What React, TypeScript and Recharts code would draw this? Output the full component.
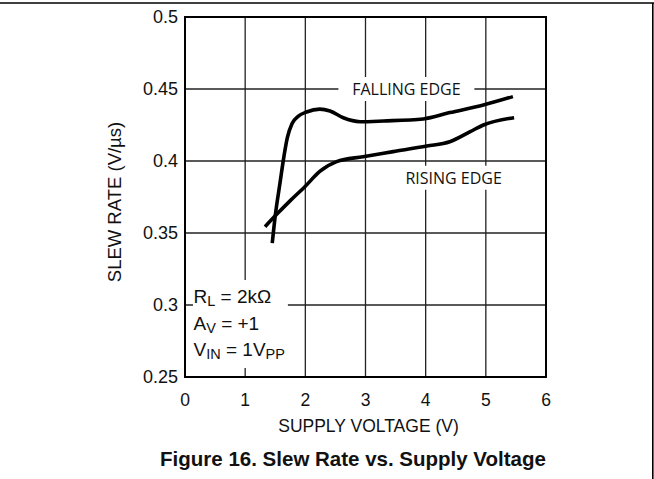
import React from 'react';
import {
  ComposedChart,
  Line,
  XAxis,
  YAxis,
  CartesianGrid,
  ReferenceArea,
  Label,
} from 'recharts';

// Axis ticks
const voltageTicks = [0, 1, 2, 3, 4, 5, 6];
const slewTicks = [0.25, 0.3, 0.35, 0.4, 0.45, 0.5];

// Falling-edge slew rate (V/µs) vs supply voltage (V)
const fallingVoltage = [1.45, 1.5, 1.58, 1.64, 1.7, 1.78, 1.88, 2.02, 2.24, 2.41, 2.63, 2.91, 3.3, 3.96, 4.4, 4.96, 5.45];
const fallingSlew = [0.343, 0.362, 0.385, 0.402, 0.416, 0.426, 0.431, 0.434, 0.436, 0.4347, 0.43, 0.4273, 0.4278, 0.4292, 0.4336, 0.4389, 0.4447];

// Rising-edge slew rate (V/µs) vs supply voltage (V)
const risingVoltage = [1.33, 1.52, 1.75, 2.0, 2.24, 2.52, 2.96, 3.46, 4.02, 4.4, 4.74, 4.96, 5.47];
const risingSlew = [0.3544, 0.3628, 0.3725, 0.3825, 0.3928, 0.3996, 0.403, 0.4065, 0.4104, 0.4134, 0.4204, 0.425, 0.4301];

const fallingData = fallingVoltage.map((v, i) => ({ v, sr: fallingSlew[i] }));
const risingData = risingVoltage.map((v, i) => ({ v, sr: risingSlew[i] }));

const ARIAL = 'Arial, "Liberation Sans", sans-serif';
const CURVE_FONT = '"Open Sans", sans-serif';

const W = 654;
const H = 479;

type VB = { x: number; y: number; width: number; height: number };

const CurveLabel = ({ viewBox, text }: { viewBox?: VB; text: string }) => {
  if (!viewBox) return null;
  const cx = viewBox.x + viewBox.width / 2;
  const cy = viewBox.y + viewBox.height / 2;
  return (
    <text x={cx} y={cy + 5.8} textAnchor="middle" fontFamily={CURVE_FONT} fontSize={16} fill="#111">
      {text}
    </text>
  );
};

const ConditionsLabel = ({ viewBox }: { viewBox?: VB }) => {
  if (!viewBox) return null;
  const x = viewBox.x + 0.5;
  const y0 = viewBox.y;
  const sub = { fontSize: 14.5 };
  return (
    <g fontFamily={ARIAL} fontSize={19} fill="#111">
      <text x={x} y={y0 + 23.5}>
        <tspan>R</tspan>
        <tspan {...sub} dy={3}>L</tspan>
        <tspan dy={-3}> = 2kΩ</tspan>
      </text>
      <text x={x} y={y0 + 50}>
        <tspan>A</tspan>
        <tspan {...sub} dy={3}>V</tspan>
        <tspan dy={-3}> = +1</tspan>
      </text>
      <text x={x} y={y0 + 76.5}>
        <tspan>V</tspan>
        <tspan {...sub} dy={3}>IN</tspan>
        <tspan dy={-3}> = 1V</tspan>
        <tspan {...sub} dy={3}>PP</tspan>
      </text>
    </g>
  );
};

const YTitle = ({ viewBox }: { viewBox?: VB }) => {
  if (!viewBox) return null;
  const cx = viewBox.x + 9;
  const cy = viewBox.y + viewBox.height / 2 + 5;
  return (
    <text
      x={cx}
      y={cy}
      transform={`rotate(-90 ${cx} ${cy})`}
      textAnchor="middle"
      dominantBaseline="central"
      fontFamily={ARIAL}
      fontSize={18.5}
      fill="#111"
    >
      SLEW RATE  (V/µs)
    </text>
  );
};

const XTitle = ({ viewBox }: { viewBox?: VB }) => {
  if (!viewBox) return null;
  const cx = viewBox.x + viewBox.width / 2 + 3;
  return (
    <text x={cx} y={viewBox.y + 55} textAnchor="middle" fontFamily={ARIAL} fontSize={17.5} fill="#111">
      SUPPLY VOLTAGE (V)
    </text>
  );
};

export default function App() {
  return (
    <div style={{ position: 'absolute', left: 0, top: 0, width: W, height: H, background: '#fff' }}>
      <ComposedChart
        width={W}
        height={H}
        margin={{ top: 17, right: 108, bottom: 72, left: 105 }}
      >
        <CartesianGrid stroke="#222" strokeWidth={1.3} />
        <XAxis
          type="number"
          dataKey="v"
          domain={[0, 6]}
          ticks={voltageTicks}
          interval={0}
          allowDataOverflow
          height={30}
          axisLine={false}
          tickLine={false}
          tickSize={6}
          tickMargin={11}
          tick={{ fontFamily: ARIAL, fontSize: 17.5, fill: '#111' }}
        >
          <Label content={<XTitle />} />
        </XAxis>
        <YAxis
          type="number"
          domain={[0.25, 0.5]}
          ticks={slewTicks}
          interval={0}
          allowDataOverflow
          width={80}
          axisLine={false}
          tickLine={false}
          tickSize={5}
          tickMargin={2}
          tick={{ fontFamily: ARIAL, fontSize: 18, fill: '#111' }}
        >
          <Label content={<YTitle />} />
        </YAxis>

        {/* white patches behind the in-plot text */}
        <ReferenceArea
          x1={2.55}
          x2={4.81}
          y1={0.4417}
          y2={0.4583}
          fill="#fff"
          fillOpacity={1}
          stroke="none"
          label={<CurveLabel text="FALLING EDGE" />}
        />
        <ReferenceArea
          x1={3.6}
          x2={5.33}
          y1={0.3801}
          y2={0.3967}
          fill="#fff"
          fillOpacity={1}
          stroke="none"
          label={<CurveLabel text="RISING EDGE" />}
        />
        <ReferenceArea
          x1={0.133}
          x2={1.71}
          y1={0.2563}
          y2={0.3174}
          fill="#fff"
          fillOpacity={1}
          stroke="none"
          label={<ConditionsLabel />}
        />

        {/* plot frame */}
        <ReferenceArea x1={0} x2={6} y1={0.25} y2={0.5} fill="none" stroke="#000" strokeWidth={2} />

        <Line
          data={fallingData}
          dataKey="sr"
          type="monotone"
          stroke="#000"
          strokeWidth={3.6}
          dot={false}
          isAnimationActive={false}
        />
        <Line
          data={risingData}
          dataKey="sr"
          type="monotone"
          stroke="#000"
          strokeWidth={3.6}
          dot={false}
          isAnimationActive={false}
        />
      </ComposedChart>
      <svg
        width={W}
        height={H}
        style={{ position: 'absolute', left: 0, top: 0, pointerEvents: 'none' }}
      >
        <line x1={0} y1={3} x2={W} y2={3} stroke="#000" strokeWidth={1.6} />
        <line x1={652.8} y1={3} x2={652.8} y2={H} stroke="#000" strokeWidth={1.6} />
        <text
          x={353}
          y={466}
          textAnchor="middle"
          fontFamily={ARIAL}
          fontWeight="bold"
          fontSize={20.5}
          fill="#111"
        >
          Figure 16. Slew Rate vs. Supply Voltage
        </text>
      </svg>
    </div>
  );
}
